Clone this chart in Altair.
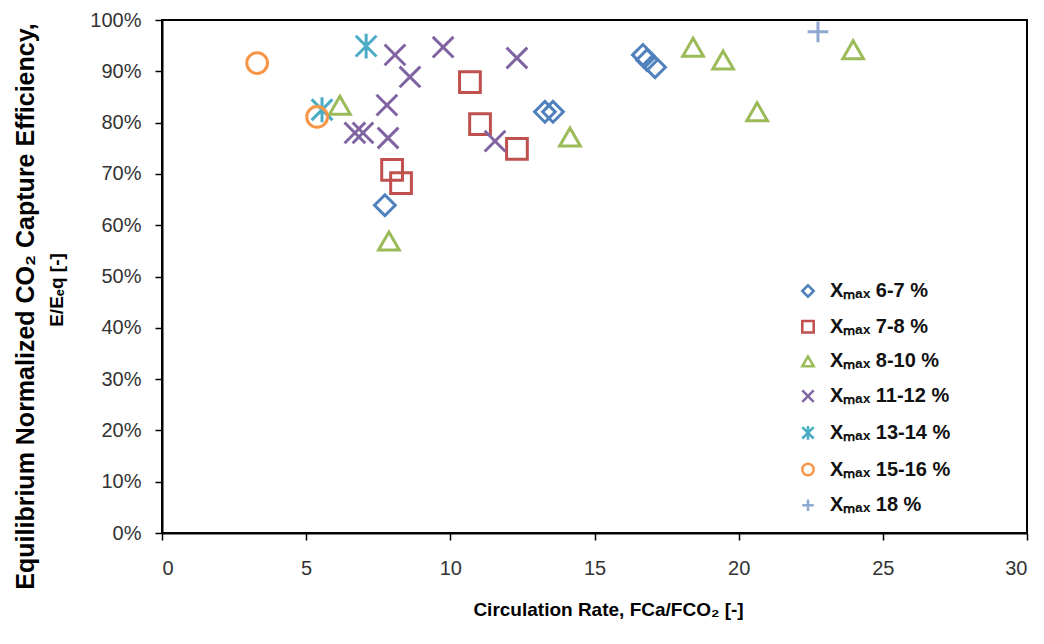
import altair as alt
import pandas as pd

# ---- data ----
series_names = ["Xₘₐₓ 6-7 %", "Xₘₐₓ 7-8 %", "Xₘₐₓ 8-10 %", "Xₘₐₓ 11-12 %",
                "Xₘₐₓ 13-14 %", "Xₘₐₓ 15-16 %", "Xₘₐₓ 18 %"]

x_6_7 = [16.68, 16.82, 17.10, 13.28, 13.56, 7.73]
y_6_7 = [0.932, 0.922, 0.908, 0.821, 0.821, 0.639]

x_7_8 = [10.68, 11.03, 12.31, 7.98, 8.29]
y_7_8 = [0.879, 0.797, 0.749, 0.708, 0.682]

x_8_10 = [6.17, 7.87, 14.15, 18.42, 19.46, 20.64, 23.97]
y_8_10 = [0.834, 0.569, 0.772, 0.947, 0.922, 0.821, 0.942]

x_11_12 = [8.08, 9.75, 12.31, 8.60, 7.80, 6.69, 6.97, 7.84, 11.55]
y_11_12 = [0.932, 0.947, 0.926, 0.889, 0.834, 0.780, 0.780, 0.770, 0.764]

x_13_14 = [7.08, 5.55]
y_13_14 = [0.949, 0.825]

x_15_16 = [3.30, 5.38]
y_15_16 = [0.916, 0.811]

x_18 = [22.75]
y_18 = [0.977]

y_title_line1 = "Equilibrium Normalized CO₂ Capture Efficiency,"
y_title_line2 = "E/Eₑq [-]"
x_title = "Circulation Rate, FCa/FCO₂ [-]"

xs = [x_6_7, x_7_8, x_8_10, x_11_12, x_13_14, x_15_16, x_18]
ys = [y_6_7, y_7_8, y_8_10, y_11_12, y_13_14, y_15_16, y_18]

rows = []
for name, xv, yv in zip(series_names, xs, ys):
    for a, b in zip(xv, yv):
        rows.append({"series": name, "rate": a, "eff": b})
df = pd.DataFrame(rows)

colors = ["#4F81BD", "#C0504D", "#9BBB59", "#8064A2", "#4BACC6", "#F79646", "#8FA8D0"]
shapes = ["diamond", "square", "triangle-up",
          "M-1,-1L1,1M-1,1L1,-1",
          "M-1,-1L1,1M-1,1L1,-1M0,-1.2L0,1.2",
          "circle",
          "M-1,0L1,0M0,-1L0,1"]

FONT = "Liberation Sans"

points = alt.Chart(df).mark_point(filled=False, strokeWidth=3, size=430, opacity=1).encode(
    x=alt.X("rate:Q",
            scale=alt.Scale(domain=[0, 30], nice=False, zero=True),
            axis=alt.Axis(values=[0, 5, 10, 15, 20, 25, 30],
                          title=x_title,
                          titleX=446, titleY=82, titleBaseline="alphabetic",
                          titleFontSize=19,
                          labelPadding=18)),
    y=alt.Y("eff:Q",
            scale=alt.Scale(domain=[0, 1], nice=False),
            axis=alt.Axis(values=[0, 0.1, 0.2, 0.3, 0.4, 0.5, 0.6, 0.7, 0.8, 0.9, 1.0],
                          format=".0%",
                          title=y_title_line1,
                          titleX=-137, titleY=286, titleAlign="center",
                          titleBaseline="middle", titleAngle=-90,
                          titleFontSize=25,
                          labelPadding=14)),
    color=alt.Color("series:N", sort=series_names,
                    scale=alt.Scale(domain=series_names, range=colors),
                    legend=alt.Legend(title=None, orient="none", legendX=636, legendY=261,
                                      symbolSize=130, symbolStrokeWidth=2.5,
                                      labelFontSize=20, labelFont=FONT, labelFontWeight="bold",
                                      labelColor="#111111", rowPadding=13.7, labelOffset=12,
                                      padding=0)),
    shape=alt.Shape("series:N", sort=series_names,
                    scale=alt.Scale(domain=series_names, range=shapes)),
)

title2 = alt.Chart(pd.DataFrame({"t": [y_title_line2]})).mark_text(
    angle=270, font=FONT, fontSize=19, fontWeight="bold", color="black",
    align="center", baseline="middle"
).encode(
    text="t:N",
    x=alt.value(-105),
    y=alt.value(270),
)

chart = alt.layer(points, title2).properties(
    width=865, height=513,
    autosize=alt.AutoSizeParams(type="none"),
    padding={"left": 162, "top": 20, "right": 17, "bottom": 111},
    background="white",
).configure_view(
    stroke="black", strokeWidth=2
).configure_axis(
    grid=False,
    domainColor="black", domainWidth=2,
    tickColor="black", tickWidth=1.5, tickSize=7,
    labelFont=FONT, labelFontSize=20, labelColor="#333333",
    titleFont=FONT, titleFontWeight="bold", titleColor="#000000",
)

chart.save("out.html", embed_options={"renderer": "svg", "actions": False})
